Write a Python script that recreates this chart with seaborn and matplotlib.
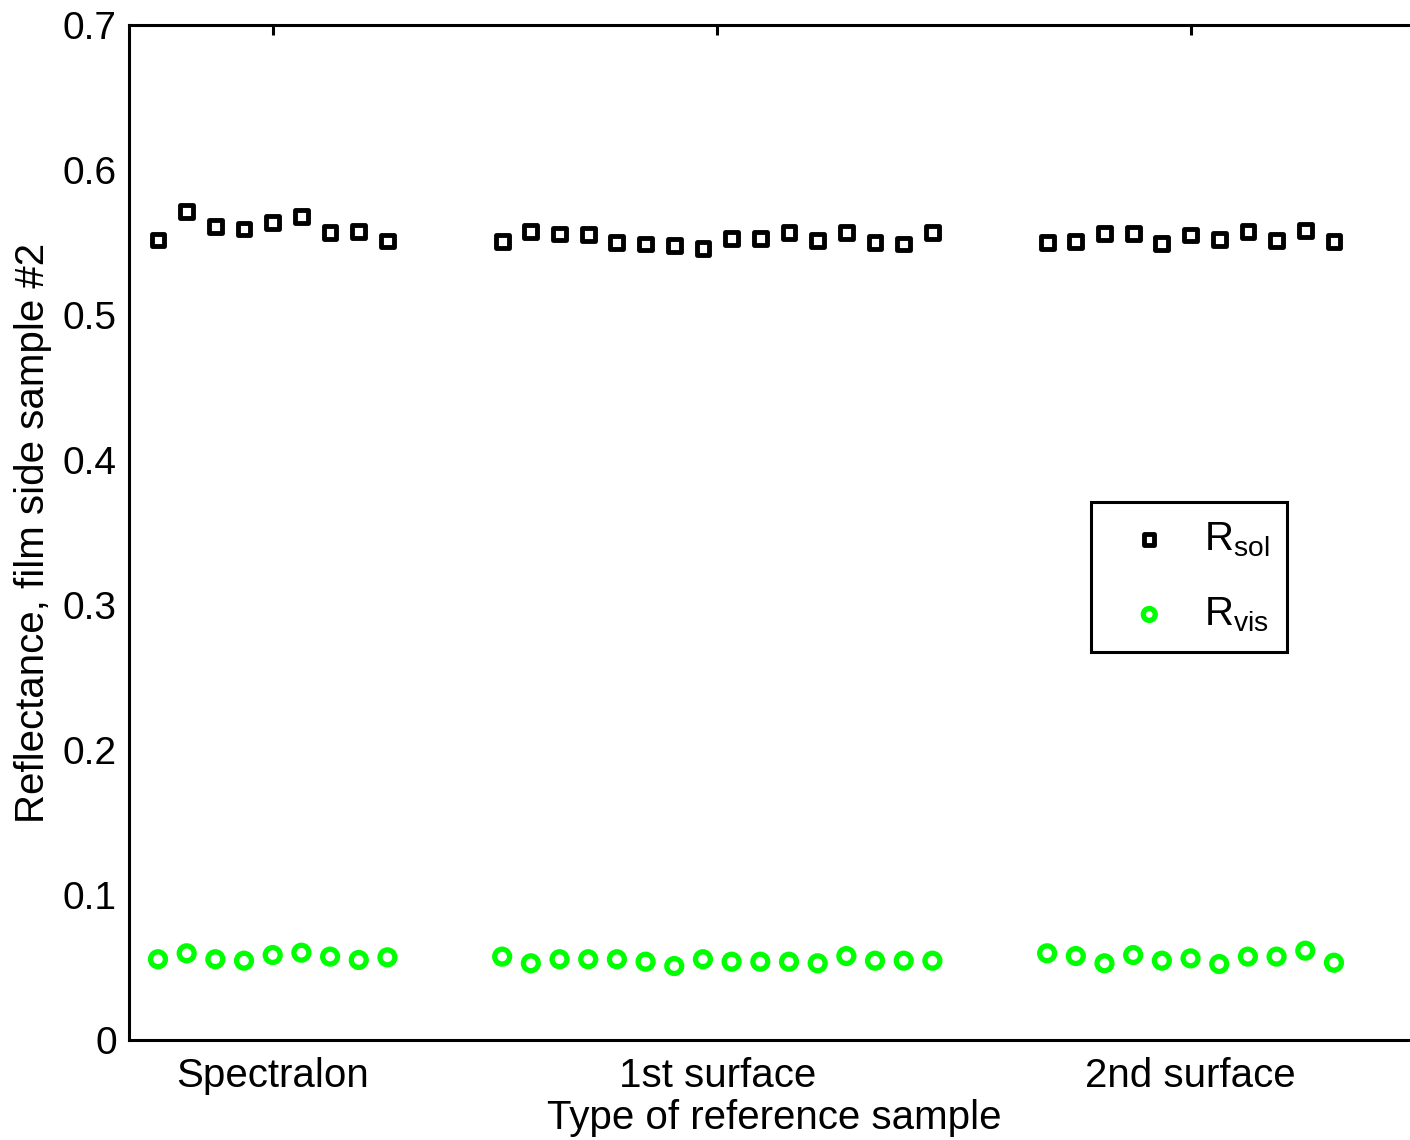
import numpy as np
import pandas as pd
import matplotlib
matplotlib.use("Agg")
import matplotlib.pyplot as plt
import seaborn as sns

# Reference sample groups
groups = ["Spectralon", "1st surface", "2nd surface"]

# Solar reflectance, film side of sample #2
r_sol_spectralon = [0.5517, 0.5712, 0.5610, 0.5593, 0.5639, 0.5678, 0.5568, 0.5575, 0.5510]
r_sol_first = [0.5506, 0.5575, 0.5559, 0.5557, 0.5501, 0.5490, 0.5478, 0.5460,
               0.5529, 0.5529, 0.5568, 0.5513, 0.5568, 0.5499, 0.5490, 0.5568]
r_sol_second = [0.5501, 0.5506, 0.5563, 0.5563, 0.5494, 0.5552, 0.5522, 0.5575,
                0.5513, 0.5581, 0.5506]

# Visible reflectance, film side of sample #2
r_vis_spectralon = [0.0557, 0.0598, 0.0557, 0.0547, 0.0586, 0.0602, 0.0575, 0.0552, 0.0570]
r_vis_first = [0.0575, 0.0529, 0.0557, 0.0557, 0.0557, 0.0540, 0.0510, 0.0557,
               0.0540, 0.0540, 0.0540, 0.0529, 0.0579, 0.0547, 0.0547, 0.0547]
r_vis_second = [0.0598, 0.0579, 0.0529, 0.0586, 0.0547, 0.0563, 0.0524, 0.0575,
                0.0575, 0.0616, 0.0533]

y_ticks = [0, 0.1, 0.2, 0.3, 0.4, 0.5, 0.6, 0.7]
y_tick_labels = ["0", "0.1", "0.2", "0.3", "0.4", "0.5", "0.6", "0.7"]

# Measurement index along the x axis: each group starts after a gap of three slots
group_starts = [1, 13, 32]
sol_sets = [r_sol_spectralon, r_sol_first, r_sol_second]
vis_sets = [r_vis_spectralon, r_vis_first, r_vis_second]

rows = []
for g, start, sol, vis in zip(groups, group_starts, sol_sets, vis_sets):
    for i, (s, v) in enumerate(zip(sol, vis)):
        rows.append({"group": g, "idx": start + i, "R_sol": s, "R_vis": v})
df = pd.DataFrame(rows)

group_centers = [df.loc[df.group == g, "idx"].mean() for g in groups]

sns.set_style("white")
plt.rcParams["font.family"] = ["Liberation Sans", "DejaVu Sans"]
plt.rcParams["mathtext.fontset"] = "custom"
plt.rcParams["mathtext.rm"] = "Liberation Sans"
plt.rcParams["mathtext.it"] = "Liberation Sans"
plt.rcParams["text.color"] = "black"
plt.rcParams["axes.labelcolor"] = "black"

fig = plt.figure(figsize=(14.1, 11.4), dpi=100)
ax = fig.add_axes([129.3 / 1410, 100 / 1140, 1290.7 / 1410, 1015 / 1140])

sns.scatterplot(data=df, x="idx", y="R_sol", marker="s", s=85,
                facecolors="none", edgecolor="black", linewidth=3.5,
                ax=ax, label=r"R$_{\mathrm{sol}}$", zorder=3)
sns.scatterplot(data=df, x="idx", y="R_vis", marker="o", s=115,
                facecolors="none", edgecolor="#00ff00", linewidth=3.8,
                ax=ax, label=r"R$_{\mathrm{vis}}$", zorder=3)

ax.set_xlim(0, 45)
ax.set_ylim(0, 0.7)
ax.set_xticks(group_centers)
ax.set_xticklabels(groups)
ax.set_yticks(y_ticks)
ax.set_yticklabels(y_tick_labels)

fs = 29
ax.tick_params(axis="both", which="major", direction="in", length=7, width=2.2,
               labelsize=fs, top=True, right=True, color="black", labelcolor="black")
ax.tick_params(axis="x", pad=12)
ax.tick_params(axis="y", pad=9, labelsize=28)
for sp in ax.spines.values():
    sp.set_visible(True)
    sp.set_color("black")
    sp.set_linewidth(2.2)

ax.set_xlabel("Type of reference sample", fontsize=fs, labelpad=3)
ax.set_ylabel("Reflectance, film side sample #2", fontsize=fs, labelpad=8)

leg = ax.legend(loc="upper left", bbox_to_anchor=(0.745, 0.530), fontsize=fs,
                frameon=True, fancybox=False, shadow=False, borderpad=0.45,
                labelspacing=0.9, handletextpad=0.35, borderaxespad=0,
                markerscale=0.8)
leg.get_frame().set_edgecolor("black")
leg.get_frame().set_linewidth(2.2)
leg.get_frame().set_alpha(1)
for t in leg.get_texts():
    t.set_color("black")

fig.savefig("out.png", dpi=100, facecolor="white")
